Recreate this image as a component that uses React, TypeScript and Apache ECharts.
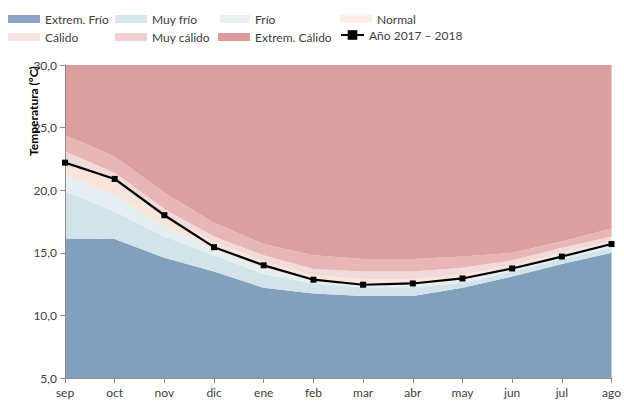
import React, { useEffect, useRef } from "react";
import * as echarts from "echarts";

const months = ["sep", "oct", "nov", "dic", "ene", "feb", "mar", "abr", "may", "jun", "jul", "ago"];
const yTicks = [5, 10, 15, 20, 25, 30];

// Upper limit of each band (ºC)
const topExtremFrio = [16.15, 16.1, 14.6, 13.5, 12.2, 11.75, 11.55, 11.55, 12.2, 13.1, 14.1, 15.0];
const topMuyFrio = [19.9, 18.3, 16.3, 14.8, 13.3, 12.55, 12.25, 12.25, 12.6, 13.5, 14.5, 15.4];
const topFrio = [21.2, 19.6, 17.1, 15.2, 13.7, 12.8, 12.4, 12.45, 12.8, 13.7, 14.7, 15.55];
const topNormal = [22.4, 20.6, 17.9, 15.9, 14.3, 13.2, 12.9, 12.9, 13.25, 14.0, 15.0, 15.9];
const topCalido = [23.1, 21.4, 18.5, 16.3, 14.8, 13.7, 13.5, 13.5, 13.8, 14.4, 15.4, 16.3];
const topMuyCalido = [24.4, 22.7, 19.8, 17.4, 15.7, 14.8, 14.5, 14.5, 14.7, 15.0, 15.9, 16.95];
const topExtremCalido = [30, 30, 30, 30, 30, 30, 30, 30, 30, 30, 30, 30];

const year2017 = [22.2, 20.9, 18.0, 15.45, 14.0, 12.85, 12.45, 12.55, 12.95, 13.75, 14.7, 15.7];

const bandNames = ["Extrem. Frío", "Muy frío", "Frío", "Normal", "Cálido", "Muy cálido", "Extrem. Cálido"];
const bandTops = [topExtremFrio, topMuyFrio, topFrio, topNormal, topCalido, topMuyCalido, topExtremCalido];
const bandColors = ["#829fbc", "#d2e3ea", "#e5eef1", "#f8e6dc", "#f3dada", "#e8b6b6", "#dc9f9f"];
const legendColors = ["#8aa6c3", "#d6e7ef", "#e8f2f5", "#fdefe6", "#fae5e5", "#f2d0d2", "#dd9b9d"];
const lineName = "Año 2017 – 2018";

export default function App() {
  const ref = useRef<HTMLDivElement>(null);
  useEffect(() => {
    if (!ref.current) return;
    const chart = echarts.init(ref.current, null, { renderer: "svg" });
    const font = "Lato, 'Open Sans', sans-serif";

    const bandSeries = bandNames.map((name, i) => ({
      name,
      type: "line",
      stack: "bands",
      data: bandTops[i].map((v, j) => +(v - (i === 0 ? 0 : bandTops[i - 1][j])).toFixed(3)),
      symbol: "none",
      lineStyle: { width: 0 },
      areaStyle: { color: bandColors[i], opacity: 1 },
      itemStyle: { color: bandColors[i] },
      emphasis: { disabled: true },
      z: 1,
    }));

    const legendPos: [string, number, number, number][] = [
      ["Extrem. Frío", 8, 13, 32],
      ["Muy frío", 115, 13, 32],
      ["Frío", 220, 13, 30],
      ["Normal", 340, 13, 32],
      ["Cálido", 8, 31, 32],
      ["Muy cálido", 115, 31, 32],
      ["Extrem. Cálido", 218, 31, 32],
      [lineName, 340, 29, 23],
    ];

    chart.setOption({
      animation: false,
      grid: { left: 65, right: 11, top: 65, bottom: 25 },
      legend: legendPos.map(([name, left, top, w]) => {
        const isLine = name === lineName;
        const idx = bandNames.indexOf(name);
        const l: any = {
          data: isLine ? [name] : [{ name, itemStyle: { color: legendColors[idx] } }],
          left,
          top,
          padding: 0,
          itemWidth: w,
          itemHeight: isLine ? 12 : 8,
          textStyle: { fontFamily: font, fontSize: 12, color: "#404040" },
          selectedMode: false,
        };
        if (!isLine) l.icon = "rect";
        return l;
      }),
      xAxis: {
        type: "category",
        data: months,
        boundaryGap: false,
        axisLine: { lineStyle: { color: "#8c8c8c" } },
        axisTick: { alignWithLabel: true, length: 5, lineStyle: { color: "#8c8c8c" } },
        axisLabel: { fontFamily: font, fontSize: 12, color: "#404040", margin: 8 },
        z: 5,
      },
      yAxis: {
        type: "value",
        min: 5,
        max: 30,
        interval: 5,
        axisLine: { show: true, lineStyle: { color: "#8c8c8c" } },
        axisTick: { show: true, length: 5, lineStyle: { color: "#8c8c8c" } },
        splitLine: { show: false },
        axisLabel: {
          fontFamily: font,
          fontSize: 12,
          color: "#404040",
          margin: 8,
          formatter: (v: number) => v.toFixed(1).replace(".", ","),
        },
        z: 5,
      },
      graphic: [
        {
          type: "text",
          x: 33,
          y: 111,
          rotation: Math.PI / 2,
          style: {
            text: "Temperatura (ºC)",
            fontFamily: font,
            fontSize: 12,
            fontWeight: "bold",
            fill: "#000",
            align: "center",
            verticalAlign: "middle",
          },
          z: 10,
        },
      ],
      series: [
        ...bandSeries,
        {
          name: lineName,
          type: "line",
          data: year2017,
          symbol: "rect",
          symbolSize: 6,
          lineStyle: { color: "#000", width: 2.2 },
          itemStyle: { color: "#000" },
          z: 10,
        },
      ],
    });
    return () => chart.dispose();
  }, []);
  return <div ref={ref} style={{ width: 624, height: 403, position: "absolute", left: 0, top: 0 }} />;
}
